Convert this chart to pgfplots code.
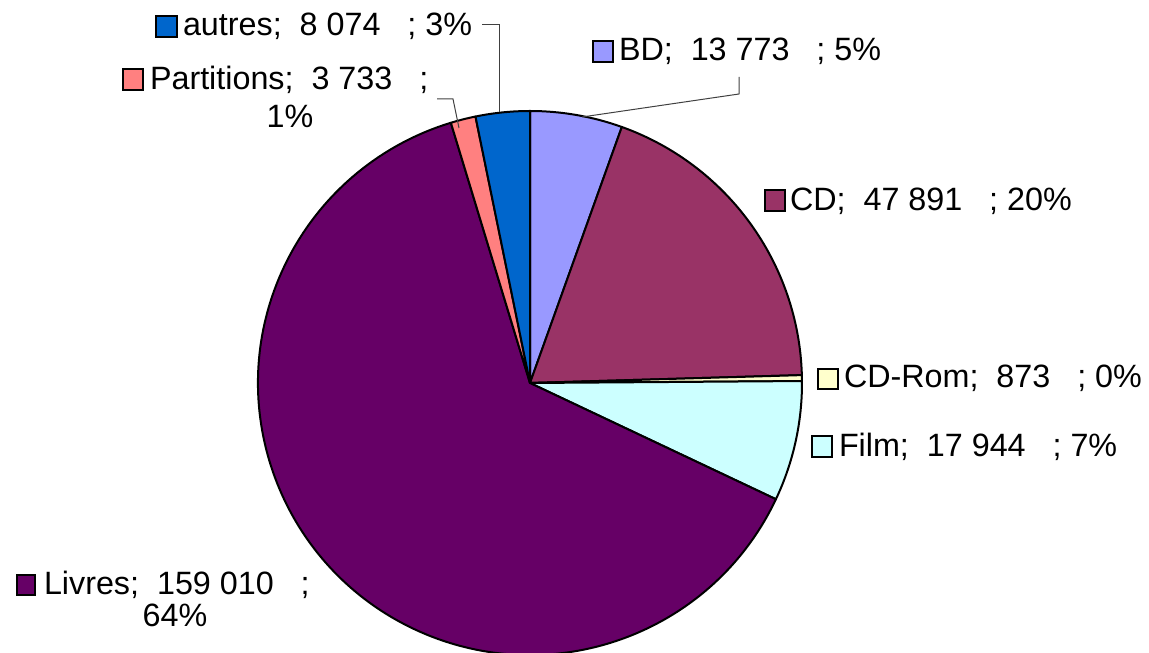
\documentclass[border=0pt]{standalone}
\usepackage{fontspec}
\setmainfont{Liberation Sans}
\usepackage{pgfplots}
\usepackage{pgfplotstable}
\pgfplotsset{compat=1.18}
\definecolor{cBD}{HTML}{9999FF}
\definecolor{cCD}{HTML}{993366}
\definecolor{cCDRom}{HTML}{FFFFCC}
\definecolor{cFilm}{HTML}{CCFFFF}
\definecolor{cLivres}{HTML}{660066}
\definecolor{cPart}{HTML}{FF8080}
\definecolor{cAutres}{HTML}{0066CC}
\tikzset{lbl/.style={inner sep=0pt,outer sep=0pt,anchor=base west,font=\fontsize{32.3}{36}\selectfont}}

\pgfplotstableread{
label value
BD 13773
CD 47891
CD-Rom 873
Film 17944
Livres 159010
Partitions 3733
autres 8074
}\piedata

% total
\gdef\pietotal{0}
\foreach \i in {0,...,6}{%
  \pgfplotstablegetelem{\i}{value}\of\piedata
  \xdef\pietotal{\fpeval{\pietotal+\pgfplotsretval}}%
}
% build slices (clockwise from 12 o'clock)
\gdef\pieslices{}
\gdef\startang{90}
\foreach \i/\c in {0/cBD,1/cCD,2/cCDRom,3/cFilm,4/cLivres,5/cPart,6/cAutres}{%
  \pgfplotstablegetelem{\i}{value}\of\piedata
  \xdef\endang{\fpeval{\startang-360*\pgfplotsretval/\pietotal}}%
  \xdef\pieslices{\unexpanded\expandafter{\pieslices}%
    \noexpand\filldraw[fill=\c,draw=black,line width=2pt,line join=round]
    (axis cs:530,270) -- ++(\startang:272pt)
    arc[start angle=\startang,end angle=\endang,radius=272pt] -- cycle;}%
  \xdef\startang{\endang}%
}

\begin{document}
\begin{tikzpicture}
\begin{axis}[x=1pt,y=1pt,xmin=0,xmax=1149,ymin=0,ymax=653,
  anchor=south west,at={(0pt,0pt)},
  hide axis,clip=false]
\pieslices
% leader lines
\draw[black!75,line width=1pt] (axis cs:482,628) -- (axis cs:499,628) -- (axis cs:499,541);
\draw[black!75,line width=1pt] (axis cs:437,554) -- (axis cs:453,554) -- (axis cs:459,525);
\draw[black!75,line width=1pt] (axis cs:739,576) -- (axis cs:739,559) -- (axis cs:582,536);
% legend keys
\filldraw[fill=cAutres,draw=black,line width=1.8pt] (axis cs:156,616) rectangle (axis cs:177,637);
\filldraw[fill=cPart,draw=black,line width=1.8pt] (axis cs:123,563) rectangle (axis cs:143,584);
\filldraw[fill=cBD,draw=black,line width=1.8pt] (axis cs:593,591) rectangle (axis cs:613,612);
\filldraw[fill=cCD,draw=black,line width=1.8pt] (axis cs:765,442) rectangle (axis cs:785,463);
\filldraw[fill=cCDRom,draw=black,line width=1.8pt] (axis cs:818,264) rectangle (axis cs:838,284);
\filldraw[fill=cFilm,draw=black,line width=1.8pt] (axis cs:812,196) rectangle (axis cs:832,217);
\filldraw[fill=cLivres,draw=black,line width=1.8pt] (axis cs:17,58) rectangle (axis cs:35,78);
% labels
\node[lbl] at (axis cs:183,617) {autres;\ \ 8 074\ \ \ ; 3\%};
\node[lbl] at (axis cs:150,563) {Partitions;\ \ 3 733\ \ \ ;};
\node[lbl,anchor=base] at (axis cs:290,525) {1\%};
\node[lbl] at (axis cs:619,592) {BD;\ \ 13 773\ \ \ ; 5\%};
\node[lbl] at (axis cs:790,442) {CD;\ \ 47 891\ \ \ ; 20\%};
\node[lbl] at (axis cs:844,265) {CD-Rom;\ \ 873\ \ \ ; 0\%};
\node[lbl] at (axis cs:839,196) {Film;\ \ 17 944\ \ \ ; 7\%};
\node[lbl] at (axis cs:44,58) {Livres;\ \ 159 010\ \ \ ;};
\node[lbl,anchor=base] at (axis cs:175,26) {64\%};
\end{axis}
\pgfresetboundingbox
\path[use as bounding box] (0pt,0pt) rectangle (1149pt,653pt);
\end{tikzpicture}
\end{document}
